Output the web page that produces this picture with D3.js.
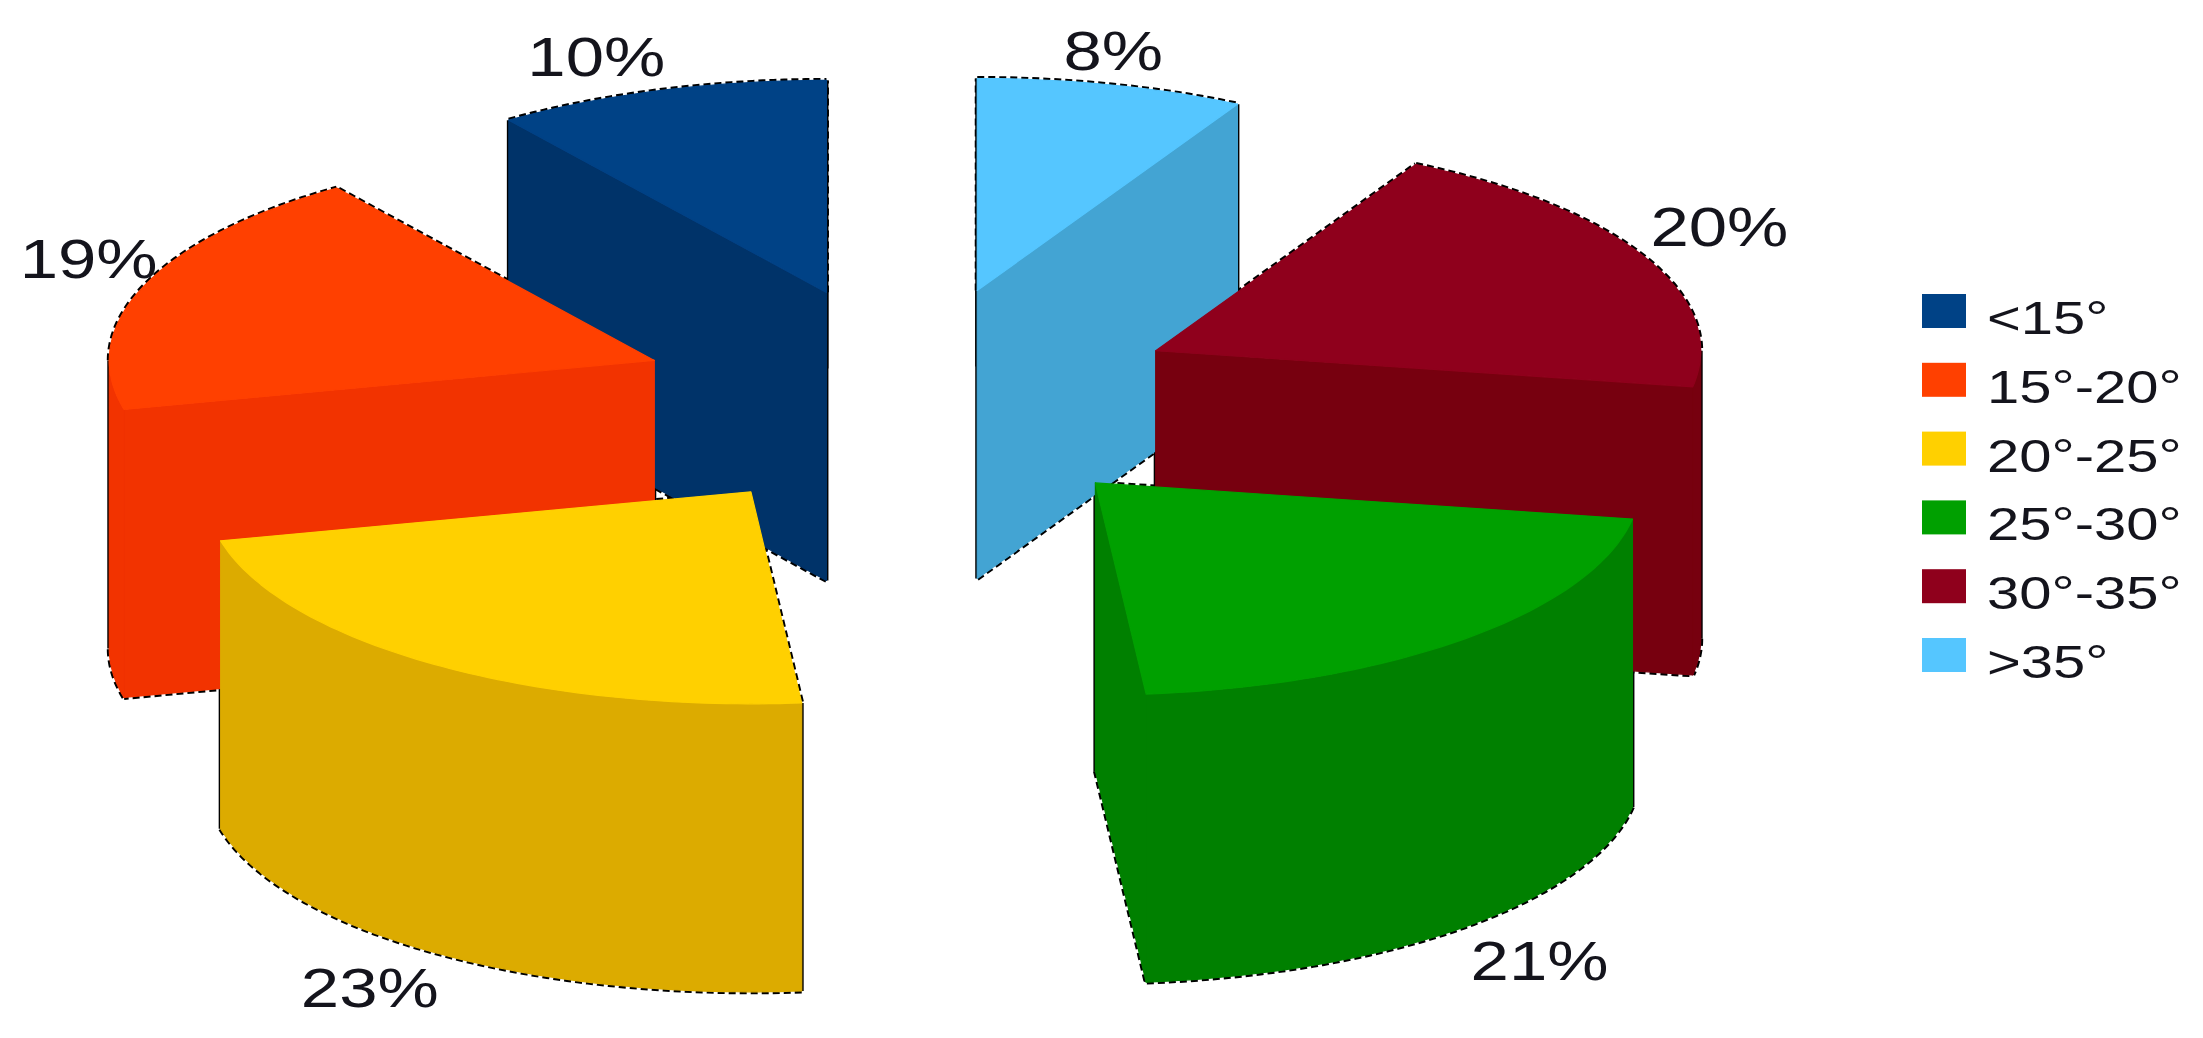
<!DOCTYPE html>
<html>
<head>
<meta charset="utf-8">
<script src="https://d3js.org/d3.v7.min.js"></script>
<style>
html,body{margin:0;padding:0;background:#fff;overflow:hidden}
svg{display:block;filter:blur(0.7px)}
text{font-family:"Liberation Sans",Arial,sans-serif;fill:#14141c}
</style>
</head>
<body>
<svg id="chart" width="2203" height="1038"></svg>
<script>
// Data, in legend order
const categories = ["<15°","15°-20°","20°-25°","25°-30°","30°-35°",">35°"];
const percents   = [10,19,23,21,20,8];
const topColors  = ["#004286","#ff4000","#ffd000","#00a000","#8f001c","#55c6ff"];
const wallColors = ["#003369","#f23300","#dcab00","#008000","#77000f","#43a4d3"];

// Layout
const W=2203,H=1038;
const cx=910, cy=400;          // pie centre
const rx=545, ry=212;          // ellipse radii of the top face
const ex=273, ey=113;          // explosion offset
const depth=288;               // extrusion height
const labelR=1.2;              // label distance in radius units
const labelNudgeX=[-30,47,0,0,-25,-25];
const labelNudgeY=[6,-14,0,2,-14,6];
const textStretch=1.23;        // the picture is stretched horizontally
const legendStretch=1.26;
const TAU=Math.PI*2;

const svg=d3.select("#chart");
const fillTop=d3.scaleOrdinal(categories,topColors);
const fillWall=d3.scaleOrdinal(categories,wallColors);
const line=d3.line();

// Clockwise from the top the slices run in reverse legend order.
const arcs=d3.pie().sort(null).value((d,i)=>percents[i]).startAngle(TAU).endAngle(0)(categories)
  .map((d,i)=>{
    const a0=Math.min(d.startAngle,d.endAngle), a1=Math.max(d.startAngle,d.endAngle), mid=(a0+a1)/2;
    return {i,cat:d.data,pct:d.value,a0,a1,mid,
      ax:cx+ex*Math.sin(mid), ay:cy-ey*Math.cos(mid)};
  });

const rim=(s,a,z=0)=>[s.ax+rx*Math.sin(a), s.ay-ry*Math.cos(a)+z];
const apex=(s,z=0)=>[s.ax,s.ay+z];
const arcPts=(s,from,to,z=0)=>{
  const n=Math.max(2,Math.ceil((to-from)/0.02));
  return d3.range(n+1).map(i=>rim(s,from+(to-from)*i/n,z));
};
// parts of [a0,a1] on the back (cos>0) or front (cos<0) of the ellipse
const clip=(s,lo,hi)=>{const f=Math.max(s.a0,lo),t=Math.min(s.a1,hi);return f<t?[f,t]:null;};
const frontPart=s=>clip(s,Math.PI/2,Math.PI*1.5);
const backParts=s=>[clip(s,0,Math.PI/2),clip(s,Math.PI*1.5,TAU)].filter(Boolean);

// Outlines sit underneath every fill, so only their outer half peeks out
const outline=svg.append("g").attr("fill","none").attr("stroke","#000");
const fills=svg.append("g");

// paint order: back to front
const order=["<15°",">35°","15°-20°","30°-35°","20°-25°","25°-30°"];
order.map(c=>arcs.find(s=>s.cat===c)).forEach(s=>{
  const a0Front=Math.sin(s.a0)<-1e-6, a1Front=Math.sin(s.a1)>1e-6;
  const dashed=[], solid=[];
  backParts(s).forEach(([f,t])=>dashed.push(arcPts(s,f,t)));
  const fr=frontPart(s);
  if(fr) dashed.push(arcPts(s,fr[0],fr[1],depth));
  if(!a0Front) dashed.push([apex(s),rim(s,s.a0)]); else dashed.push([apex(s,depth),rim(s,s.a0,depth)]);
  if(!a1Front) dashed.push([apex(s),rim(s,s.a1)]); else dashed.push([apex(s,depth),rim(s,s.a1,depth)]);
  [s.a0,s.a1].forEach(a=>solid.push([rim(s,a),rim(s,a,depth)]));
  solid.push([apex(s),apex(s,depth)]);
  if(fr){[Math.PI/2,Math.PI*1.5].forEach(a=>{if(a>s.a0&&a<s.a1)solid.push([rim(s,a),rim(s,a,depth)]);});}

  dashed.forEach(p=>outline.append("path").attr("d",line(p))
    .attr("stroke-width",5).attr("stroke-dasharray","7 4"));
  solid.forEach(p=>{
    const vertical=Math.abs(p[0][0]-p[1][0])<1;
    outline.append("path").attr("d",line(p)).attr("stroke-width",vertical?4:3);
  });

  const g=fills.append("g").attr("data-cat",s.cat);
  const paint=(sel,color)=>sel.attr("fill",color).attr("stroke",color).attr("stroke-width",1.2).attr("stroke-linejoin","round");
  const wall=(a)=>paint(g.append("path")
    .attr("d",line([apex(s),rim(s,a),rim(s,a,depth),apex(s,depth)])+"Z"),fillWall(s.cat));
  if(a0Front) wall(s.a0);
  if(a1Front) wall(s.a1);
  if(fr){
    paint(g.append("path")
      .attr("d",line(arcPts(s,fr[0],fr[1]).concat(arcPts(s,fr[0],fr[1],depth).reverse()))+"Z"),fillWall(s.cat));
  }
  paint(g.append("path")
    .attr("d",line([apex(s)].concat(arcPts(s,s.a0,s.a1)))+"Z"),fillTop(s.cat));
});

// Percent labels
arcs.forEach(s=>{
  const front=Math.cos(s.mid)<0;
  const x=s.ax+labelR*rx*Math.sin(s.mid)+labelNudgeX[s.i];
  const y=s.ay-labelR*ry*Math.cos(s.mid)+(front?depth:0)+labelNudgeY[s.i];
  svg.append("text")
    .attr("transform",`translate(${x},${y}) scale(${textStretch},1)`)
    .attr("text-anchor","middle").attr("dy","0.36em")
    .attr("font-size",56)
    .text(s.pct+"%");
});

// Legend
const legendY=d3.scalePoint().domain(categories).range([311,655]);
const legend=svg.append("g");
categories.forEach(c=>{
  legend.append("rect").attr("x",1922).attr("y",legendY(c)-17)
    .attr("width",44).attr("height",34).attr("fill",fillTop(c));
  legend.append("text")
    .attr("transform",`translate(1987,${legendY(c)+23}) scale(${legendStretch},1)`)
    .attr("font-size",46)
    .text(c);
});
</script>
</body>
</html>
